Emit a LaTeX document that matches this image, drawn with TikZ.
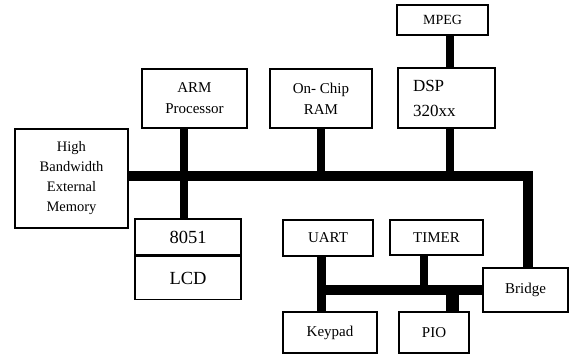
\documentclass[tikz,border=0pt]{standalone}
\usepackage{fontspec}
\setmainfont{Liberation Serif}
\usetikzlibrary{positioning}
\tikzset{
  blk/.style    = {draw, line width=1.5pt, inner sep=0pt, align=center,
                   font=\fontsize{14.5}{20}\selectfont},
  bigtxt/.style = {font=\fontsize{18.5}{22}\selectfont},
  bus/.style    = {line width=9.5pt, line join=miter},
  stub/.style   = {line width=8pt},
}
\begin{document}
\begin{tikzpicture}[x=1pt,y=-1pt]
  \useasboundingbox (0,0) rectangle (571,356);
  % top row and memory
  \node[blk, minimum width=113pt, minimum height=99pt] (mem) at (71.5,178.5) {High\\Bandwidth\\External\\Memory};
  \node[blk, minimum width=105pt, minimum height=59pt, font=\fontsize{15}{21}\selectfont] (arm) at (194.5,98.5) {ARM\\Processor};
  \node[blk, minimum width=102pt, minimum height=59pt, font=\fontsize{15}{21}\selectfont] (ram) at (321,98.5) {On- Chip\\RAM};
  \node[blk, minimum width=91pt, minimum height=30pt, font=\fontsize{14}{17}\selectfont] (mpeg) at (442.5,20) {MPEG};
  \node[blk, minimum width=97pt, minimum height=60pt, text width=67pt, align=left,
        font=\fontsize{17}{25}\selectfont] (dsp) at (446.5,98) {DSP\\320xx};
  % 8051 / LCD
  \node[blk, bigtxt, minimum width=106pt, minimum height=36pt] (c8051) at (188,237) {8051};
  \node[blk, bigtxt, minimum width=106pt, minimum height=43pt, below=0pt of c8051] (lcd) {LCD};
  % peripheral side
  \node[blk, minimum width=90pt, minimum height=36pt, font=\fontsize{15}{18}\selectfont] (uart) at (328,238) {UART};
  \node[blk, minimum width=93pt, minimum height=35pt, font=\fontsize{15}{18}\selectfont] (timer) at (436.5,237.5) {TIMER};
  \node[blk, minimum width=85pt, minimum height=44pt, font=\fontsize{15}{18}\selectfont] (bridge) at (525.5,290) {Bridge};
  \node[blk, minimum width=94pt, minimum height=41pt, font=\fontsize{15}{18}\selectfont] (keypad) at (330,332.5) {Keypad};
  \node[blk, minimum width=70pt, minimum height=41pt, font=\fontsize{15}{18}\selectfont] (pio) at (434,332.5) {PIO};

  % bus corners and tap positions
  \coordinate (busR) at (528,176);
  \coordinate (armX) at (184,0);
  \coordinate (dspX) at (449.5,0);
  \coordinate (lowL) at (321.5,290);
  \coordinate (timX) at (424,0);
  \coordinate (pioX) at (452.5,0);

  % main bus
  \draw[bus] (mem.east |- busR) -- (busR) -- (bridge.north -| busR);
  \draw[stub] (arm.south -| armX) -- (c8051.north -| armX);
  \draw[stub] (ram.south) -- (ram.south |- busR);
  \draw[stub] (dsp.south -| dspX) -- (dspX |- busR);
  \draw[stub] (mpeg.south -| dspX) -- (dsp.north -| dspX);

  % peripheral bus
  \draw[bus] (lowL) -- (bridge.west |- lowL);
  \draw[line width=9pt] (uart.south -| lowL) -- (keypad.north -| lowL);
  \draw[stub] (timer.south -| timX) -- (timX |- lowL);
  \draw[line width=13pt] (pio.north -| pioX) -- (pioX |- lowL);
\end{tikzpicture}
\end{document}
